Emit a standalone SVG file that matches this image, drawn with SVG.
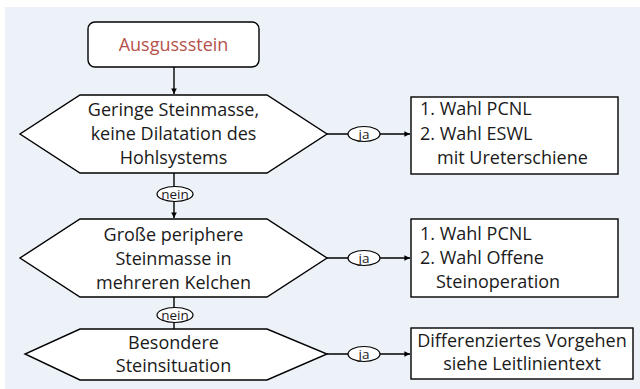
<svg xmlns="http://www.w3.org/2000/svg" width="640" height="389" viewBox="0 0 640 389">
<defs>
<marker id="arr" viewBox="0 0 6 6" refX="6" refY="3" markerWidth="4" markerHeight="4" orient="auto">
<path d="M0,0 L6,3 L0,6 z" fill="#000"/>
</marker>
<style>
.shape{fill:#fff;stroke:#000;stroke-width:1.4}
.t{font-family:"Open Sans","Noto Sans",sans-serif;font-size:18px;fill:#1a1a1a}
.c{text-anchor:middle}
.lbl{font-family:"Open Sans","Noto Sans",sans-serif;font-size:13.5px;fill:#1a1a1a;text-anchor:middle}
.ln{stroke:#000;stroke-width:1.4;fill:none}
.el{fill:#fff;stroke:#000;stroke-width:1.2}
</style>
</defs>
<rect x="5" y="7" width="635" height="382" fill="#edf2f9"/>
<g id="connectors">
<line class="ln" x1="174" y1="67" x2="174" y2="94" marker-end="url(#arr)"/>
<line class="ln" x1="174" y1="173" x2="174" y2="218" marker-end="url(#arr)"/>
<line class="ln" x1="174" y1="297" x2="174" y2="329"/>
<line class="ln" x1="327" y1="134" x2="410" y2="134" marker-end="url(#arr)"/>
<line class="ln" x1="327" y1="258" x2="410" y2="258" marker-end="url(#arr)"/>
<line class="ln" x1="327" y1="354" x2="410" y2="354" marker-end="url(#arr)"/>
<g id="label-nein-1"><ellipse class="el" cx="175" cy="194" rx="18" ry="7.5"/><text class="lbl" x="175" y="198.5">nein</text></g>
<g id="label-nein-2"><ellipse class="el" cx="175" cy="315" rx="18" ry="7.5"/><text class="lbl" x="175" y="319.5">nein</text></g>
<g id="label-ja-1"><ellipse class="el" cx="364" cy="134" rx="16" ry="7.5"/><text class="lbl" x="364" y="138.5">ja</text></g>
<g id="label-ja-2"><ellipse class="el" cx="364" cy="258" rx="16" ry="7.5"/><text class="lbl" x="364" y="262.5">ja</text></g>
<g id="label-ja-3"><ellipse class="el" cx="364" cy="354" rx="16" ry="7.5"/><text class="lbl" x="364" y="358.5">ja</text></g>
</g>
<g id="start">
<rect class="shape" x="88" y="22" width="171" height="45" rx="7"/>
<text class="t c" x="173.5" y="51" style="fill:#b5524c">Ausgussstein</text>
</g>
<g id="decision-1">
<polygon class="shape" points="80,95 267,95 327,134 267,173 80,173 20,134"/>
<text class="t c" x="173.5" y="116">Geringe Steinmasse,</text>
<text class="t c" x="173.5" y="140">keine Dilatation des</text>
<text class="t c" x="173.5" y="164">Hohlsystems</text>
</g>
<g id="decision-2">
<polygon class="shape" points="80,219 267,219 327,258 267,297 80,297 20,258"/>
<text class="t c" x="173.5" y="241">Große periphere</text>
<text class="t c" x="173.5" y="265">Steinmasse in</text>
<text class="t c" x="173.5" y="289">mehreren Kelchen</text>
</g>
<g id="decision-3">
<polygon class="shape" points="80,329 267,329 327,354 267,380 80,380 25,354"/>
<text class="t c" x="173.5" y="349">Besondere</text>
<text class="t c" x="173.5" y="372">Steinsituation</text>
</g>
<g id="result-1">
<rect class="shape" x="411" y="97" width="207" height="77"/>
<text class="t" x="420" y="115">1. Wahl PCNL</text>
<text class="t" x="420" y="140">2. Wahl ESWL</text>
<text class="t" x="437" y="164">mit Ureterschiene</text>
</g>
<g id="result-2">
<rect class="shape" x="411" y="219" width="207" height="78"/>
<text class="t" x="420" y="240">1. Wahl PCNL</text>
<text class="t" x="420" y="264">2. Wahl Offene</text>
<text class="t" x="436" y="288">Steinoperation</text>
</g>
<g id="result-3">
<rect class="shape" x="411" y="328" width="222" height="51"/>
<text class="t c" x="522" y="347">Differenziertes Vorgehen</text>
<text class="t c" x="522" y="370">siehe Leitlinientext</text>
</g>
</svg>
